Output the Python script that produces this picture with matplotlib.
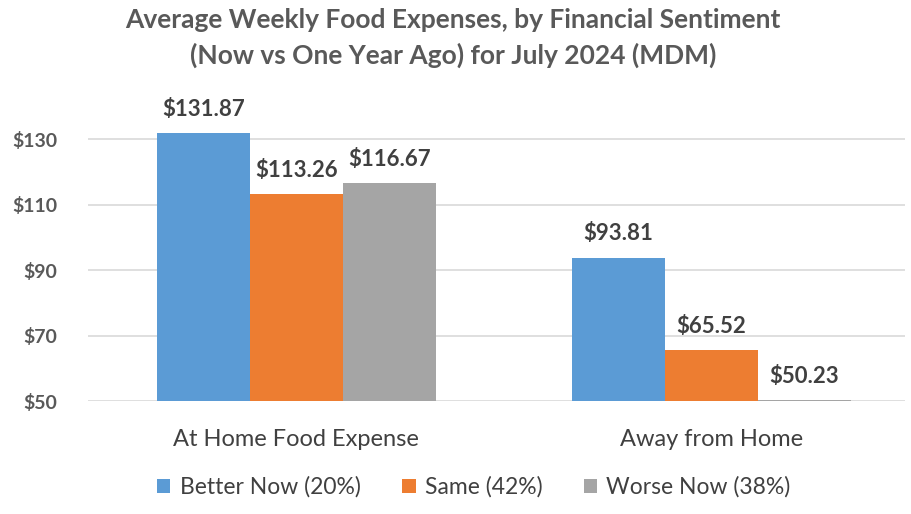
import matplotlib.pyplot as plt
import numpy as np

categories = ["At Home Food Expense", "Away from Home"]
series_names = ["Better Now (20%)", "Same (42%)", "Worse Now (38%)"]
better_now = [131.87, 93.81]
same = [113.26, 65.52]
worse_now = [116.67, 50.23]
y_ticks = [50, 70, 90, 110, 130]

colors = ["#5B9BD5", "#ED7D31", "#A5A5A5"]
text_color = "#595959"
plt.rcParams['font.family'] = ['Lato', 'DejaVu Sans']

fig = plt.figure(figsize=(9.11, 5.14), dpi=100)
ax = fig.add_axes([0.0966, 0.2198, 0.8966, 0.5607])

x = np.arange(len(categories))
width = 0.224
for i, (vals, name) in enumerate(zip([better_now, same, worse_now], series_names)):
    pos = x + (i - 1) * width
    ax.bar(pos, np.array(vals) - 50, width, bottom=50, color=colors[i],
           label=name, zorder=3)
    for p, v in zip(pos, vals):
        ax.text(p, v + 4.0, f"${v:.2f}", ha='center', va='bottom', fontsize=16,
                fontweight='bold', color="#404040", clip_on=False)

ax.set_ylim(50, 138)
ax.set_xlim(-0.502, 1.466)
ax.set_yticks(y_ticks)
ax.set_yticklabels([f"${t}" for t in y_ticks], fontsize=14, fontweight='bold',
                   color=text_color)
ax.set_xticks(x)
ax.set_xticklabels(categories, fontsize=17, color="#404040")
ax.tick_params(axis='both', length=0)
ax.tick_params(axis='x', pad=20)
ax.tick_params(axis='y', pad=22)
ax.grid(axis='y', color='#D9D9D9', linewidth=1.2, zorder=0)
for s in ax.spines.values():
    s.set_visible(False)

fig.suptitle("Average Weekly Food Expenses, by Financial Sentiment\n"
             "(Now vs One Year Ago) for July 2024 (MDM)",
             x=0.497, y=0.985, fontsize=19, fontweight='bold', color=text_color,
             linespacing=1.5)

fig.legend(loc='center', bbox_to_anchor=(0.52, 0.052), ncol=3, frameon=False,
           fontsize=16.5, handlelength=0.6, handleheight=0.6, handletextpad=0.4,
           columnspacing=1.8, labelcolor="#404040")

fig.savefig("out.png", dpi=100, facecolor='white')
